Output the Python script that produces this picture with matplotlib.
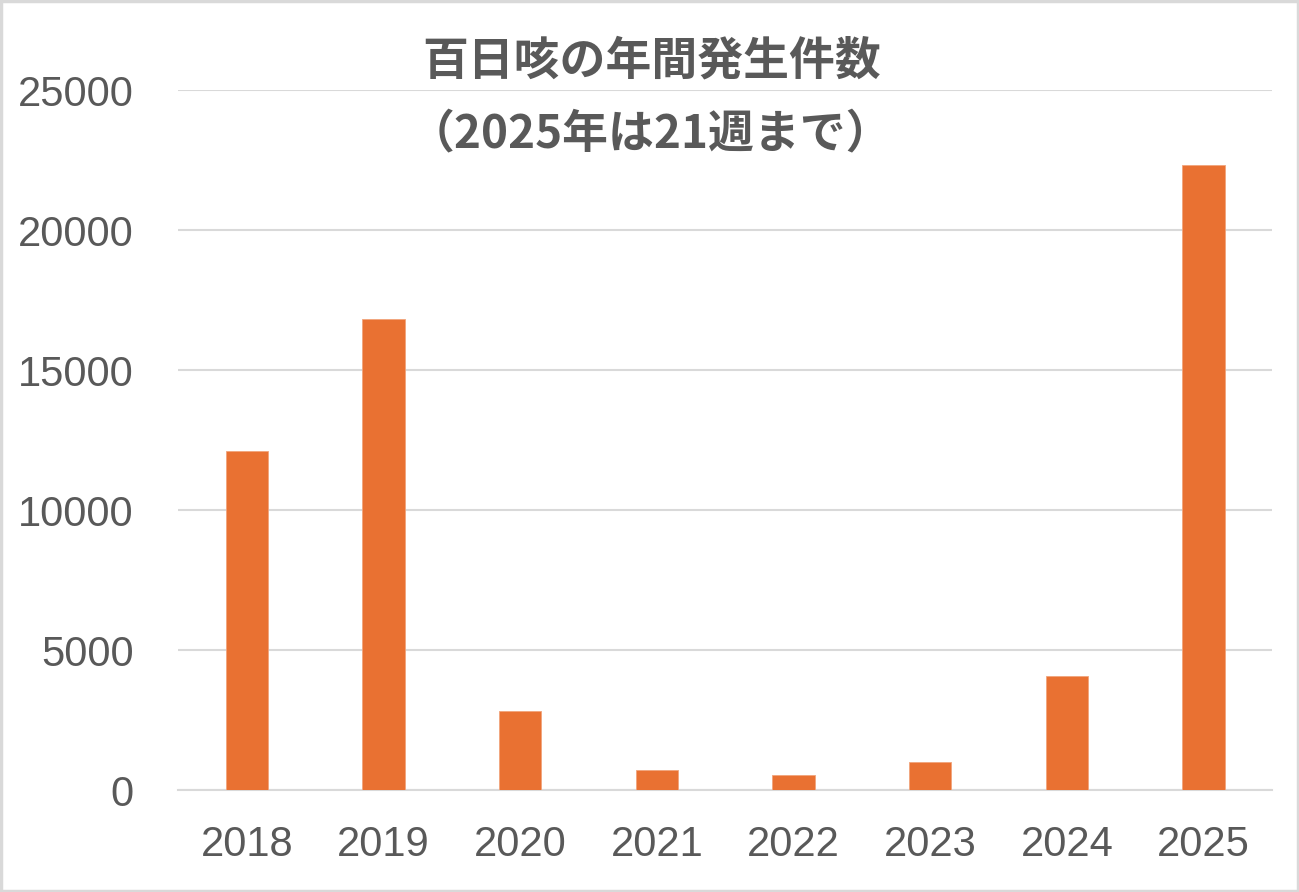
import matplotlib
matplotlib.use("Agg")
import matplotlib.pyplot as plt
from matplotlib.patches import Rectangle

# Data
years = ["2018", "2019", "2020", "2021", "2022", "2023", "2024", "2025"]
cases = [12110, 16840, 2810, 725, 525, 1000, 4060, 22340]
y_ticks = [0, 5000, 10000, 15000, 20000, 25000]

title_line1 = "百日咳の年間発生件数"
title_line2 = "（2025年は21週まで）"

_BAR_COLOR = "#E97132"
_TEXT_COLOR = "#595959"
_GRID_COLOR = "#D9D9D9"

fig = plt.figure(figsize=(12.99, 8.92), dpi=100)
ax = fig.add_axes([0.1373, 0.1143, 0.8418, 0.7845])

x = range(len(years))
ax.bar(x, cases, width=0.31, color=_BAR_COLOR,
       edgecolor="#F1A47C", linewidth=0.6, zorder=3)

ax.set_xlim(-0.5, len(years) - 0.5)
ax.set_ylim(0, 25000)
ax.set_yticks(y_ticks)
ax.set_yticklabels([str(v) for v in y_ticks])
ax.set_xticks(list(x))
ax.set_xticklabels(years)

ax.grid(axis="y", color=_GRID_COLOR, linewidth=1.5, zorder=0)
for spine in ("top", "right", "left"):
    ax.spines[spine].set_visible(False)
ax.spines["bottom"].set_color(_GRID_COLOR)
ax.spines["bottom"].set_linewidth(1.5)
ax.tick_params(axis="both", length=0, labelsize=30, labelcolor=_TEXT_COLOR)
ax.tick_params(axis="y", pad=32)
ax.tick_params(axis="x", pad=25)
for lbl in ax.get_xticklabels() + ax.get_yticklabels():
    lbl.set_family("Liberation Sans")

# Title (two lines, drawn over the plot area)
fig.text(0.5015, 0.9316, title_line1, ha="center", va="center",
         fontsize=33, fontweight="bold", color=_TEXT_COLOR,
         family=["Noto Sans CJK JP", "DejaVu Sans"])
fig.text(0.5005, 0.8498, title_line2, ha="center", va="center",
         fontsize=33, fontweight="bold", color=_TEXT_COLOR,
         family=["Noto Sans CJK JP", "DejaVu Sans"])

# Light outer border
fig.patches.append(Rectangle((0.001, 0.001), 0.998, 0.998,
                             transform=fig.transFigure, fill=False,
                             edgecolor=_GRID_COLOR, linewidth=2.5))

fig.savefig("out.png", dpi=100, facecolor="white")
